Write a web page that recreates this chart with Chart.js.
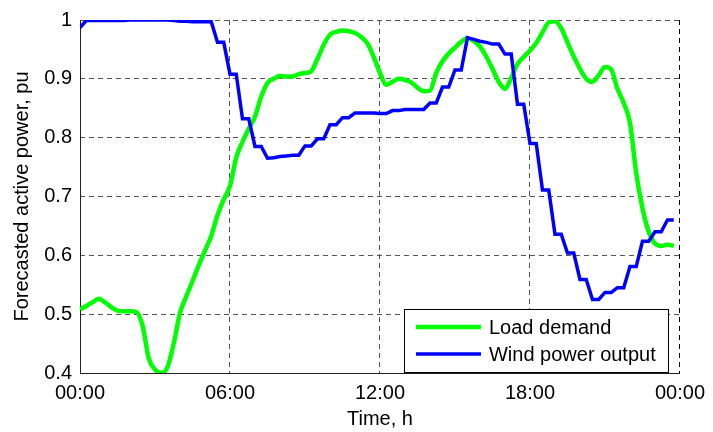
<!DOCTYPE html>
<html>
<head>
<meta charset="utf-8">
<script src="https://cdn.jsdelivr.net/npm/chart.js@4"></script>
<style>
  html, body { margin: 0; padding: 0; background: #fff; }
  #wrap { width: 713px; height: 432px; }
</style>
</head>
<body>
<div id="wrap"><canvas id="forecastChart" width="713" height="432"></canvas></div>
<script>
// tick labels for the time axis (every 6 h)
const timeTicks = ["00:00", "06:00", "12:00", "18:00", "00:00"];

// forecast values, one per 15 min starting at 00:00
const loadDemand = [
  0.508, 0.514, 0.520, 0.526, 0.520, 0.512, 0.506, 0.505,
  0.505, 0.504, 0.481, 0.425, 0.406, 0.400, 0.410, 0.450,
  0.502, 0.530, 0.556, 0.583, 0.608, 0.633, 0.668, 0.695,
  0.718, 0.766, 0.793, 0.815, 0.836, 0.870, 0.893, 0.900,
  0.905, 0.904, 0.904, 0.908, 0.910, 0.913, 0.934, 0.958,
  0.975, 0.980, 0.982, 0.981, 0.978, 0.971, 0.960, 0.937,
  0.910, 0.890, 0.895, 0.900, 0.898, 0.894, 0.885, 0.879,
  0.880, 0.910, 0.930, 0.943, 0.953, 0.963, 0.969, 0.964,
  0.955, 0.938, 0.917, 0.895, 0.883, 0.902, 0.925, 0.937,
  0.948, 0.961, 0.979, 0.996, 0.998, 0.986, 0.962, 0.938,
  0.917, 0.900, 0.895, 0.906, 0.920, 0.916, 0.883, 0.859,
  0.825, 0.740, 0.680, 0.640, 0.620, 0.616, 0.618, 0.616
];

const windOutput = [
  0.987, 0.999, 0.999, 0.999, 0.999, 0.999, 0.999, 0.999,
  1.000, 1.000, 1.000, 1.000, 1.000, 1.000, 1.000, 0.999,
  0.998, 0.998, 0.997, 0.997, 0.997, 0.997, 0.962, 0.962,
  0.908, 0.908, 0.832, 0.832, 0.785, 0.785, 0.765, 0.766,
  0.768, 0.769, 0.770, 0.770, 0.786, 0.786, 0.798, 0.798,
  0.822, 0.822, 0.834, 0.834, 0.842, 0.842, 0.842, 0.842,
  0.841, 0.841, 0.846, 0.846, 0.848, 0.848, 0.848, 0.848,
  0.859, 0.859, 0.886, 0.886, 0.915, 0.915, 0.970, 0.967,
  0.964, 0.962, 0.959, 0.959, 0.942, 0.942, 0.857, 0.857,
  0.790, 0.790, 0.711, 0.711, 0.636, 0.636, 0.604, 0.604,
  0.559, 0.559, 0.525, 0.525, 0.537, 0.537, 0.545, 0.545,
  0.581, 0.581, 0.624, 0.624, 0.640, 0.640, 0.660, 0.660
];

const hours = loadDemand.map((_, i) => i * 0.25);
const toPoints = (values) => values.map((v, i) => ({ x: hours[i], y: v }));

const FONT = "'Liberation Sans', Arial, sans-serif";
const gridColor = "#555";

// legend box drawn inside the plot area, bottom right
const insideLegend = {
  id: "insideLegend",
  afterDatasetsDraw(chart) {
    const { ctx, chartArea } = chart;
    const right = chartArea.right - 11;
    const bottom = chartArea.bottom;
    const left = right - 265;
    const top = bottom - 64;

    ctx.save();
    ctx.fillStyle = "#fff";
    ctx.fillRect(left, top, right - left, bottom - top);
    ctx.strokeStyle = "#000";
    ctx.lineWidth = 1;
    ctx.strokeRect(left + 0.5, top + 0.5, right - left - 1, bottom - top - 1);

    ctx.font = "20px " + FONT;
    ctx.textBaseline = "middle";
    ctx.fillStyle = "#000";
    chart.data.datasets.forEach((ds, i) => {
      const y = top + 18 + i * 27;
      ctx.strokeStyle = ds.borderColor;
      ctx.lineWidth = ds.borderWidth;
      ctx.beginPath();
      ctx.moveTo(left + 12, y);
      ctx.lineTo(left + 77, y);
      ctx.stroke();
      ctx.fillText(ds.label, left + 85, y + 1);
    });
    ctx.restore();
  },
};

// solid left and bottom axis lines on top of the dashed grid
const solidAxes = {
  id: "solidAxes",
  beforeDatasetsDraw(chart) {
    const { ctx, chartArea } = chart;
    ctx.save();
    ctx.strokeStyle = "#222";
    ctx.lineWidth = 1;
    ctx.setLineDash([]);
    ctx.beginPath();
    ctx.moveTo(chartArea.left + 0.5, chartArea.top);
    ctx.lineTo(chartArea.left + 0.5, chartArea.bottom + 0.5);
    ctx.lineTo(chartArea.right, chartArea.bottom + 0.5);
    ctx.stroke();
    ctx.restore();
  },
};

const ctx = document.getElementById("forecastChart").getContext("2d");

new Chart(ctx, {
  type: "line",
  data: {
    datasets: [
      {
        label: "Load demand",
        data: toPoints(loadDemand),
        borderColor: "#00ff00",
        borderWidth: 4.5,
        pointRadius: 0,
        tension: 0.35,
        cubicInterpolationMode: "monotone",
        order: 1,
      },
      {
        label: "Wind power output",
        data: toPoints(windOutput),
        borderColor: "#0000ff",
        borderWidth: 3.5,
        pointRadius: 0,
        tension: 0,
        order: 0,
      },
    ],
  },
  options: {
    responsive: false,
    animation: false,
    layout: { padding: { left: 0, right: 27, top: 17, bottom: 0 } },
    plugins: {
      legend: { display: false },
      tooltip: { enabled: false },
    },
    scales: {
      x: {
        type: "linear",
        min: 0,
        max: 24,
        afterFit: (scale) => { scale.height = 59; },
        border: { display: false, dash: [5, 4] },
        grid: {
          color: (c) => (c.tick && c.tick.value === 24 ? "#000" : gridColor),
          drawTicks: false,
        },
        ticks: {
          stepSize: 6,
          padding: 8,
          color: "#000",
          font: { family: FONT, size: 20 },
          maxRotation: 0,
          callback: (value) => timeTicks[value / 6],
        },
        title: {
          display: true,
          text: "Time, h",
          color: "#000",
          font: { family: FONT, size: 20 },
          padding: { top: 0, bottom: 1 },
        },
      },
      y: {
        min: 0.4,
        max: 1,
        afterFit: (scale) => { scale.width = 80; },
        border: { display: false, dash: [5, 4] },
        grid: {
          color: gridColor,
          drawTicks: false,
        },
        ticks: {
          stepSize: 0.1,
          padding: 8,
          color: "#000",
          font: { family: FONT, size: 20 },
          callback: (value) => (Math.abs(value - 1) < 1e-9 ? "1" : value.toFixed(1)),
        },
        title: {
          display: true,
          text: "Forecasted active power, pu",
          color: "#000",
          font: { family: FONT, size: 20 },
          padding: { top: 10, bottom: 0 },
        },
      },
    },
  },
  plugins: [solidAxes, insideLegend],
});
</script>
</body>
</html>
